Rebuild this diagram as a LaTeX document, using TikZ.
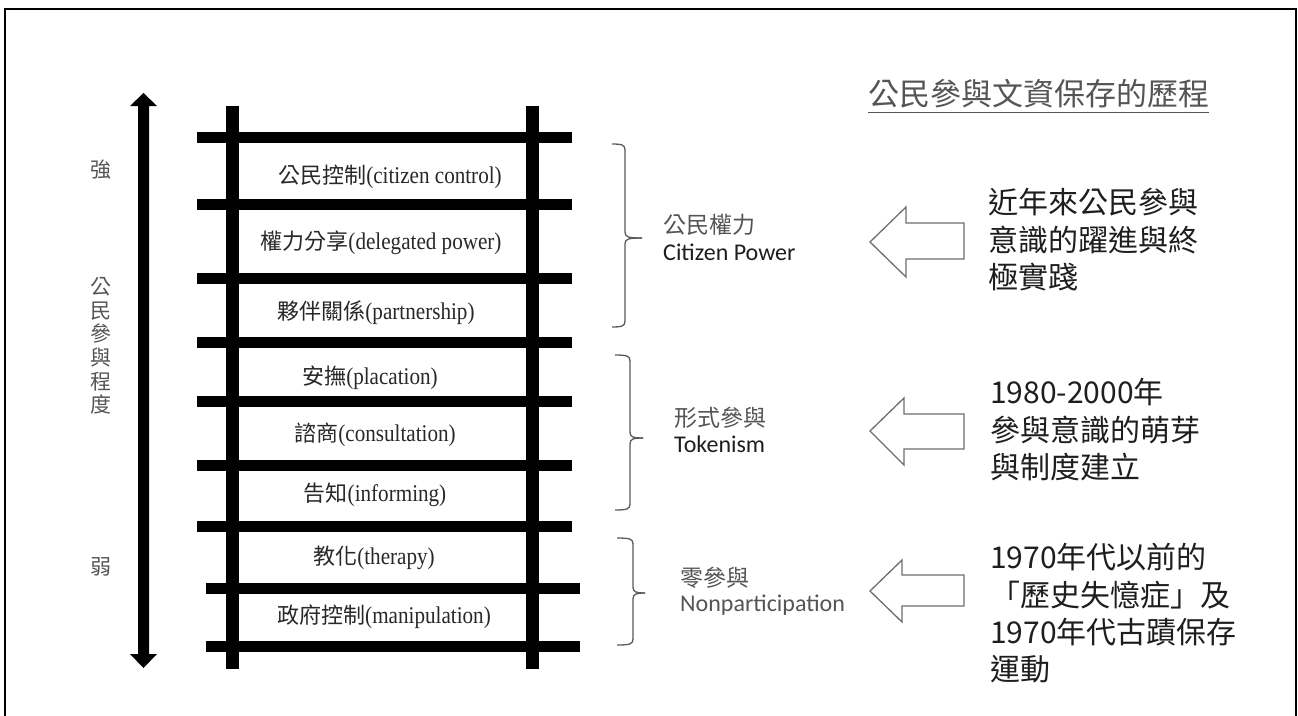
\documentclass[tikz,border=0pt]{standalone}
\usepackage{fontspec}
\newfontfamily\cjkf{Noto Sans CJK TC}
\newfontfamily\serf[FakeStretch=0.88]{Liberation Serif}
\newfontfamily\carf{Carlito}
\usetikzlibrary{calc}
\definecolor{ladtxt}{RGB}{40,40,40}
\definecolor{greytxt}{RGB}{85,85,85}
\definecolor{darktxt}{RGB}{30,30,30}
\definecolor{bracecol}{RGB}{90,90,90}
\definecolor{arrcol}{RGB}{110,110,110}
\newcommand\mybrace[6]{% xv, xend, top, bottom, tipy, tipx
  \draw[bracestyle] (#2,#3) .. controls ({#1-3},#3) and (#1,{#3+1}) .. (#1,{#3+6}) -- (#1,{#5-6}) .. controls (#1,{#5-1}) and ({#1+3},#5) .. (#6,#5);
  \draw[bracestyle] (#2,#4) .. controls ({#1-3},#4) and (#1,{#4-1}) .. (#1,{#4-6}) -- (#1,{#5+6}) .. controls (#1,{#5+1}) and ({#1+3},#5) .. (#6,#5);}
\newcommand\blockarrow[7]{% tipx, tipy, backx, headtop, headbot, shafttop, shaftbot ; right at 964
  \draw[blockarr] (#1,#2) -- (#3,#4) -- (#3,#6) -- (964,#6) -- (964,#7) -- (#3,#7) -- (#3,#5) -- cycle;}
\begin{document}
\begin{tikzpicture}[x=1pt,y=-1pt,
  laddertext/.style={inner sep=0pt, text=ladtxt, font=\fontsize{22}{26}\selectfont},
  sidelabel/.style={inner sep=0pt, text=greytxt, font=\cjkf\fontsize{21}{23.6}\selectfont, align=center},
  grouplabel/.style={inner sep=0pt, anchor=west},
  cjklabel/.style={grouplabel, font=\cjkf\fontsize{23}{26}\selectfont},
  latlabel/.style={grouplabel, font=\carf\fontsize{24}{28}\selectfont},
  righttext/.style={inner sep=0pt, anchor=west, text=darktxt, font=\cjkf\fontsize{30}{36}\selectfont},
  bracestyle/.style={draw=bracecol, line width=1.3pt},
  blockarr/.style={draw=arrcol, fill=white, line width=1.3pt, line join=miter},
  rail/.style={fill=black},
]
\useasboundingbox (0,0) rectangle (1298,715);
\fill[white] (0,0) rectangle (1298,715);
% frame
\draw[line width=2pt] (5,720) -- (5,9) -- (1296,9) -- (1296,720);

% vertical double arrow
\fill (138,106) -- (130,106) -- (143.5,93) -- (157,106) -- (149,106) -- (149,654) -- (157,654) -- (143.5,668) -- (130,654) -- (138,654) -- cycle;
\node[sidelabel] (strong) at (101,170) {強};
\node[sidelabel] (degree) at (101,346) {公\\民\\參\\與\\程\\度};
\node[sidelabel] (weak) at (101,567) {弱};

% ladder rails
\fill[rail] (226,106) rectangle (239,669);
\fill[rail] (526,106) rectangle (539,669);
% rungs
\foreach \y in {137,204,278,342,401,465,526}{
  \fill[rail] (197,{\y-5.5}) rectangle (572,{\y+5.5});
}
\foreach \y in {588,646}{
  \fill[rail] (206,{\y-5.5}) rectangle (580,{\y+5.5});
}

% ladder texts
\node[laddertext] (l1) at (390,177) {{\cjkf 公民控制}{\serf\fontsize{24}{26}\selectfont (citizen control)}};
\node[laddertext] (l2) at (381,243) {{\cjkf 權力分享}{\serf\fontsize{24}{26}\selectfont (delegated power)}};
\node[laddertext] (l3) at (376,313) {{\cjkf 夥伴關係}{\serf\fontsize{24}{26}\selectfont (partnership)}};
\node[laddertext] (l4) at (370,378) {{\cjkf 安撫}{\serf\fontsize{24}{26}\selectfont (placation)}};
\node[laddertext] (l5) at (375,435) {{\cjkf 諮商}{\serf\fontsize{24}{26}\selectfont (consultation)}};
\node[laddertext] (l6) at (375,495) {{\cjkf 告知}{\serf\fontsize{24}{26}\selectfont (informing)}};
\node[laddertext] (l7) at (374,558) {{\cjkf 教化}{\serf\fontsize{24}{26}\selectfont (therapy)}};
\node[laddertext] (l8) at (384,617) {{\cjkf 政府控制}{\serf\fontsize{24}{26}\selectfont (manipulation)}};

% braces
\mybrace{625}{612}{144}{327}{238}{642}
\mybrace{630}{615}{355}{510}{438}{643}
\mybrace{633}{617}{538}{645}{593}{645}

% group labels
\node[cjklabel, text=greytxt] (g1a) at (663,225) {公民權力};
\node[latlabel, text=darktxt] (g1b) at (663,252) {Citizen Power};
\node[cjklabel, text=greytxt] (g2a) at (674,418) {形式參與};
\node[latlabel, text=darktxt] (g2b) at (674,444) {Tokenism};
\node[cjklabel, text=greytxt] (g3a) at (680,578) {零參與};
\node[latlabel, text=greytxt] (g3b) at (680,605) {Nonparticipation};

% block arrows
\blockarrow{870}{242}{906}{207}{277}{223}{259}
\blockarrow{870}{431}{904}{398}{465}{414}{449}
\blockarrow{870}{591}{902}{560}{622}{575}{606}

% title
\node[inner sep=0pt, anchor=west, text=greytxt, font=\cjkf\fontsize{31}{36}\selectfont] (title) at (868,94) {公民參與文資保存的歷程};
\draw[greytxt, line width=1.2pt] ($(title.base west)+(0,7)$) -- ($(title.base east)+(0,7)$);

% right texts
\node[righttext] (r1a) at (988,202) {近年來公民參與};
\node[righttext] (r1b) at (988,240) {意識的躍進與終};
\node[righttext] (r1c) at (988,277) {極實踐};
\node[righttext] (r2a) at (990,392) {1980-2000年};
\node[righttext] (r2b) at (990,430) {參與意識的萌芽};
\node[righttext] (r2c) at (990,467) {與制度建立};
\node[righttext] (r3a) at (990,557) {1970年代以前的};
\node[righttext] (r3b) at (990,595) {「歷史失憶症」及};
\node[righttext] (r3c) at (990,632) {1970年代古蹟保存};
\node[righttext] (r3d) at (990,669) {運動};
\end{tikzpicture}
\end{document}
